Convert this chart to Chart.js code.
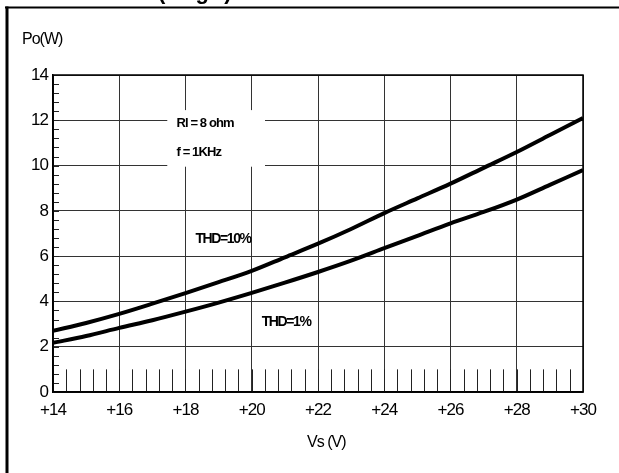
<!DOCTYPE html>
<html>
<head>
<meta charset="utf-8">
<script src="https://cdn.jsdelivr.net/npm/chart.js@4.4.0/dist/chart.umd.min.js"></script>
<style>
  html, body { margin: 0; padding: 0; background: #fff; }
  #wrap { position: relative; width: 619px; height: 473px; }
</style>
</head>
<body>
<div id="wrap"><canvas id="lineChart"></canvas></div>
<script>
var voltajes = [14, 15, 16, 17, 18, 19, 20, 21, 22, 23, 24, 25, 26, 27, 28, 29, 30];
var thd10 = [2.7, 3.05, 3.45, 3.9, 4.37, 4.85, 5.35, 5.95, 6.55, 7.2, 7.9, 8.55, 9.2, 9.9, 10.6, 11.35, 12.1];
var thd1 = [2.17, 2.47, 2.83, 3.17, 3.55, 3.95, 4.38, 4.83, 5.3, 5.8, 6.35, 6.9, 7.45, 7.95, 8.5, 9.15, 9.8];
var notas = ['Rl = 8 ohm', 'f = 1KHz', 'THD=10%', 'THD=1%'];
var tituloY = 'Po(W)';
var tituloX = 'Vs (V)';
var tituloFig = '(Single)';

var fuente = "'Liberation Sans', Arial, sans-serif";

function puntos(xs, ys)
{
  var r = [];
  for (var i = 0; i < xs.length; i++) {
    r.push({x: xs[i], y: ys[i]});
  }
  return r;
}

var marcoPlugin = {
  id: 'marco',
  beforeInit: function(chart) {
    chart.ctx.letterSpacing = '-1px';
  },
  beforeDraw: function(chart) {
    chart.ctx.letterSpacing = '-1px';
  },
  beforeDatasetsDraw: function(chart) {
    var ctx = chart.ctx;
    var x = chart.scales.x;
    var y = chart.scales.y;
    var a = chart.chartArea;
    ctx.save();
    // minor ticks on x (long ones, up to 1W)
    ctx.strokeStyle = '#222';
    ctx.lineWidth = 1;
    var y0 = y.getPixelForValue(0);
    var y1 = y.getPixelForValue(1);
    for (var v = 14.4; v < 30; v += 0.4) {
      var px = Math.round(x.getPixelForValue(v)) + 0.5;
      ctx.beginPath();
      ctx.moveTo(px, y0);
      ctx.lineTo(px, y1);
      ctx.stroke();
    }
    // minor ticks on y
    for (var w = 0.4; w < 14; w += 0.4) {
      var py = Math.round(y.getPixelForValue(w)) + 0.5;
      ctx.beginPath();
      ctx.moveTo(a.left, py);
      ctx.lineTo(a.left + 6, py);
      ctx.stroke();
    }
    // white box behind notes
    ctx.fillStyle = '#fff';
    ctx.fillRect(x.getPixelForValue(17.45), y.getPixelForValue(12.45), x.getPixelForValue(20.4) - x.getPixelForValue(17.45), y.getPixelForValue(9.95) - y.getPixelForValue(12.45));
    ctx.restore();
  },
  afterDraw: function(chart) {
    var ctx = chart.ctx;
    var x = chart.scales.x;
    var y = chart.scales.y;
    var a = chart.chartArea;
    ctx.save();
    // plot border
    ctx.strokeStyle = '#000';
    ctx.lineWidth = 1.5;
    ctx.strokeRect(a.left, a.top, a.right - a.left, a.bottom - a.top);
    // notes
    ctx.fillStyle = '#000';
    ctx.textBaseline = 'middle';
    ctx.textAlign = 'left';
    ctx.letterSpacing = '-0.9px';
    ctx.font = 'bold 13px ' + fuente;
    ctx.fillText(notas[0], x.getPixelForValue(17.73), y.getPixelForValue(11.86));
    ctx.fillText(notas[1], x.getPixelForValue(17.73), y.getPixelForValue(10.6));
    ctx.letterSpacing = '-1.4px';
    ctx.font = 'bold 14px ' + fuente;
    ctx.fillText(notas[2], x.getPixelForValue(18.3), y.getPixelForValue(6.75));
    ctx.fillText(notas[3], x.getPixelForValue(20.3), y.getPixelForValue(3.07));
    // axis titles
    ctx.letterSpacing = '-1px';
    ctx.font = '16px ' + fuente;
    ctx.fillText(tituloY, 22, 40);
    ctx.textAlign = 'center';
    ctx.fillText(tituloX, x.getPixelForValue(22.25), 443);
    // outer frame
    ctx.lineWidth = 2;
    ctx.beginPath();
    ctx.moveTo(5, 7.5);
    ctx.lineTo(619, 7.5);
    ctx.stroke();
    ctx.lineWidth = 3;
    ctx.beginPath();
    ctx.moveTo(7, 6.5);
    ctx.lineTo(7, 473);
    ctx.stroke();
    // cut-off figure title
    ctx.textAlign = 'left';
    ctx.textBaseline = 'alphabetic';
    ctx.font = 'bold 22px ' + fuente;
    ctx.fillText(tituloFig, 158, -1);
    ctx.restore();
  }
};

function grafico()
{
  var lineData = {
    datasets: [
      {
        label       : 'THD=10%',
        data        : puntos(voltajes, thd10),
        borderColor : '#000',
        borderWidth : 4,
        pointRadius : 0,
        tension     : 0.4,
        cubicInterpolationMode: 'monotone',
        fill        : false
      },
      {
        label       : 'THD=1%',
        data        : puntos(voltajes, thd1),
        borderColor : '#000',
        borderWidth : 4,
        pointRadius : 0,
        tension     : 0.4,
        cubicInterpolationMode: 'monotone',
        fill        : false
      }
    ]
  };

  var lineOptions = {
    responsive          : true,
    maintainAspectRatio : false,
    animation           : false,
    layout              : { padding: { left: 0, right: 36, top: 75, bottom: 0 } },
    plugins             : {
      legend  : { display: false },
      tooltip : { enabled: false }
    },
    scales              : {
      x : {
        type : 'linear',
        min  : 14,
        max  : 30,
        grid : { color: '#333', lineWidth: 1, drawTicks: false },
        border : { color: '#000', width: 1.5 },
        ticks : {
          stepSize : 2,
          padding  : 8,
          color    : '#000',
          font     : { family: fuente, size: 17 },
          callback : function(v) { return '+' + v; }
        },
        afterFit : function(s) { s.height = 81; }
      },
      y : {
        min  : 0,
        max  : 14,
        grid : { color: '#333', lineWidth: 1, drawTicks: false },
        border : { color: '#000', width: 1.5 },
        ticks : {
          stepSize : 2,
          padding  : 5,
          color    : '#000',
          font     : { family: fuente, size: 17 }
        },
        afterFit : function(s) { s.width = 53; }
      }
    }
  };

  var lineCanvas = document.getElementById('lineChart').getContext('2d');
  var lineChart = new Chart(lineCanvas, {
    type    : 'line',
    data    : lineData,
    options : lineOptions,
    plugins : [marcoPlugin]
  });
}

grafico();
</script>
</body>
</html>
